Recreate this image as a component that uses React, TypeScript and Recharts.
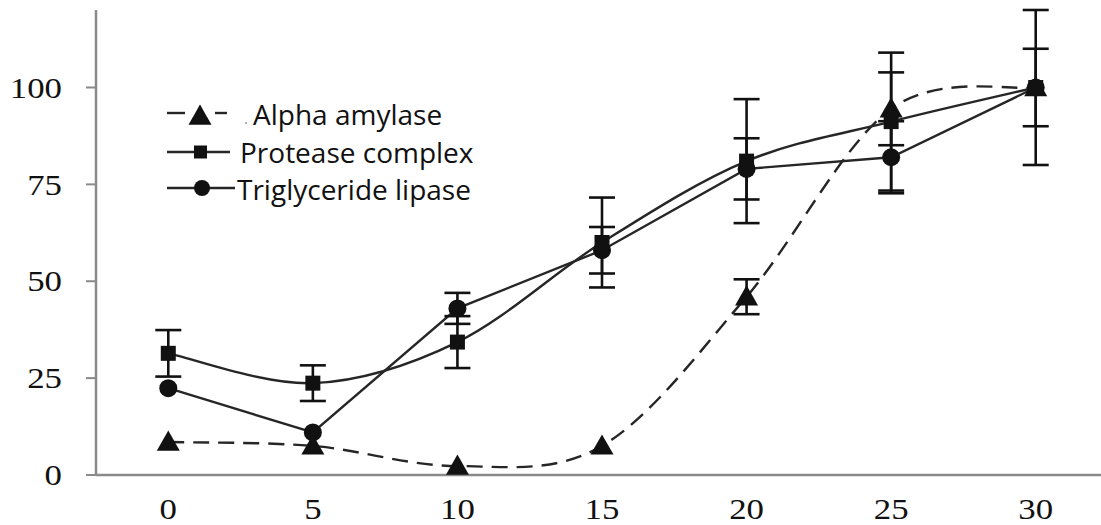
import React from "react";
import { ComposedChart, Line, XAxis, YAxis, ErrorBar, Legend } from "recharts";

// ---- data ----
const times = [0, 5, 10, 15, 20, 25, 30];
const alphaAmylase = [8.5, 7.5, 2.3, 7.5, 46, 94.5, 100];
const alphaErr = [0, 0, 0, 0, 4.5, 9.4, 0];
const proteaseComplex = [31.4, 23.7, 34.3, 60, 81, 91.2, 100];
const proteaseErr = [6, 4.6, 6.7, 11.6, 16, 17.8, 10];
const triglycerideLipase = [22.4, 11, 43, 58, 79, 82, 100];
const lipaseErr = [0, 0, 4, 6, 7.9, 9.3, 20];
const yTicks = [0, 25, 50, 75, 100];
const xLabelTicks = [0, 5, 10, 15, 20, 25, 30];
const xBoundaryTicks = [-2.5, 2.5, 7.5, 12.5, 17.5, 22.5, 27.5, 32.5];
const seriesNames = ["Alpha amylase", "Protease complex", "Triglyceride lipase"];

const data = times.map((t, i) => ({
  t,
  a: alphaAmylase[i],
  aErr: alphaErr[i],
  p: proteaseComplex[i],
  pErr: proteaseErr[i],
  l: triglycerideLipase[i],
  lErr: lipaseErr[i],
}));

const AXIS = "#8a8a8a";
const INK = "#111";
const LINE = "#262626";
const SERIF = "'Liberation Serif', 'DejaVu Serif', serif";
const SANS = "'Open Sans', 'Noto Sans', sans-serif";

// Excel-like smoothing curve (cubic Bezier, 1/6 tangent factor)
function excelSmooth(context: any) {
  let pts: number[][] = [];
  return {
    areaStart() {},
    areaEnd() {},
    lineStart() {
      pts = [];
    },
    point(x: number, y: number) {
      pts.push([+x, +y]);
    },
    lineEnd() {
      const n = pts.length;
      if (!n) return;
      context.moveTo(pts[0][0], pts[0][1]);
      const k = 1 / 6;
      for (let i = 0; i < n - 1; i++) {
        const p0 = pts[i - 1] || pts[i];
        const p1 = pts[i];
        const p2 = pts[i + 1];
        const p3 = pts[i + 2] || pts[i + 1];
        context.bezierCurveTo(
          p1[0] + (p2[0] - p0[0]) * k,
          p1[1] + (p2[1] - p0[1]) * k,
          p2[0] - (p3[0] - p1[0]) * k,
          p2[1] - (p3[1] - p1[1]) * k,
          p2[0],
          p2[1]
        );
      }
    },
  };
}

const TriangleDot = (props: any) => {
  const { cx, cy } = props;
  if (cx == null || cy == null) return null;
  const s = 11.5;
  return (
    <polygon
      points={`${cx},${cy - s} ${cx - s},${cy + s * 0.75} ${cx + s},${cy + s * 0.75}`}
      fill={INK}
    />
  );
};
const SquareDot = (props: any) => {
  const { cx, cy } = props;
  if (cx == null || cy == null) return null;
  const s = 7.5;
  return <rect x={cx - s} y={cy - s} width={2 * s} height={2 * s} fill={INK} />;
};
const CircleDot = (props: any) => {
  const { cx, cy } = props;
  if (cx == null || cy == null) return null;
  return <circle cx={cx} cy={cy} r={9} fill={INK} />;
};

const YTick = (props: any) => {
  const { x, y, payload } = props;
  return (
    <text
      transform={`translate(${x},${y}) scale(1.2,1)`}
      textAnchor="end"
      dy="0.35em"
      fontFamily={SERIF}
      fontSize={29}
      fill="#111"
    >
      {payload.value}
    </text>
  );
};
const XTick = (props: any) => {
  const { x, y, payload } = props;
  return (
    <text
      transform={`translate(${x},${y}) scale(1.2,1)`}
      textAnchor="middle"
      dy="0.71em"
      fontFamily={SERIF}
      fontSize={29}
      fill="#111"
    >
      {payload.value}
    </text>
  );
};

const LegendContent = () => (
  <svg width={360} height={120} style={{ display: "block", overflow: "visible" }}>
    {/* row 1: dashed + triangle */}
    <line x1={7} y1={21} x2={25} y2={21} stroke={LINE} strokeWidth={2.4} />
    <line x1={55} y1={21} x2={67} y2={21} stroke={LINE} strokeWidth={2.4} />
    <circle cx={86} cy={31} r={1} fill="#999" />
    <TriangleDot cx={40} cy={24} />
    <text x={93} y={33} fontFamily={SANS} fontSize={28} fill="#111">
      {seriesNames[0]}
    </text>
    {/* row 2: solid + square */}
    <line x1={7} y1={60} x2={70} y2={60} stroke={LINE} strokeWidth={2.4} />
    <rect x={34} y={53.5} width={13} height={13} fill={INK} />
    <text x={80} y={71} fontFamily={SANS} fontSize={28} fill="#111">
      {seriesNames[1]}
    </text>
    {/* row 3: solid + circle */}
    <line x1={7} y1={96} x2={75} y2={96} stroke={LINE} strokeWidth={2.4} />
    <circle cx={42} cy={96} r={8} fill={INK} />
    <text x={77} y={108} fontFamily={SANS} fontSize={28} fill="#111">
      {seriesNames[2]}
    </text>
  </svg>
);

export default function App() {
  return (
    <div
      style={{
        position: "absolute",
        left: 0,
        top: 0,
        width: 1101,
        height: 525,
        overflow: "hidden",
        background: "#fff",
      }}
    >
      <ComposedChart
        width={1110}
        height={525}
        data={data}
        margin={{ top: 10, right: 2, bottom: 0, left: 0 }}
      >
        <XAxis
          xAxisId="b"
          dataKey="t"
          type="number"
          domain={[-2.5, 32.5]}
          ticks={xBoundaryTicks}
          interval={0}
          allowDataOverflow
          tick={false}
          tickSize={9}
          height={1}
          axisLine={{ stroke: AXIS, strokeWidth: 2.5 }}
          tickLine={{ stroke: AXIS, strokeWidth: 2 }}
        />
        <XAxis
          xAxisId="lab"
          dataKey="t"
          type="number"
          domain={[-2.5, 32.5]}
          ticks={xLabelTicks}
          interval={0}
          allowDataOverflow
          axisLine={false}
          tickLine={false}
          tickSize={0}
          tickMargin={22}
          height={49}
          tick={<XTick />}
        />
        <YAxis
          type="number"
          domain={[0, 120]}
          ticks={yTicks}
          interval={0}
          allowDataOverflow
          width={96}
          tickSize={10}
          tickMargin={24}
          axisLine={{ stroke: AXIS, strokeWidth: 2.5 }}
          tickLine={{ stroke: AXIS, strokeWidth: 2 }}
          tick={<YTick />}
        />
        <Legend
          layout="horizontal"
          verticalAlign="middle"
          align="center"
          wrapperStyle={{ left: 160, top: 92, width: 360, height: 120 }}
          content={() => <LegendContent />}
        />
        <Line
          xAxisId="b"
          dataKey="l"
          type="linear"
          stroke={LINE}
          strokeWidth={2.4}
          dot={(p: any) => <CircleDot key={`l${p.index}`} {...p} />}
          activeDot={false}
          isAnimationActive={false}
        >
          <ErrorBar dataKey="lErr" width={13} strokeWidth={2.6} stroke={INK} direction="y" />
        </Line>
        <Line
          xAxisId="b"
          dataKey="p"
          type={excelSmooth as any}
          stroke={LINE}
          strokeWidth={2.4}
          dot={(p: any) => <SquareDot key={`p${p.index}`} {...p} />}
          activeDot={false}
          isAnimationActive={false}
        >
          <ErrorBar dataKey="pErr" width={13} strokeWidth={2.6} stroke={INK} direction="y" />
        </Line>
        <Line
          xAxisId="b"
          dataKey="a"
          type={excelSmooth as any}
          stroke={LINE}
          strokeWidth={2.4}
          strokeDasharray="16 9"
          dot={(p: any) => <TriangleDot key={`a${p.index}`} {...p} />}
          activeDot={false}
          isAnimationActive={false}
        >
          <ErrorBar dataKey="aErr" width={13} strokeWidth={2.6} stroke={INK} direction="y" />
        </Line>
      </ComposedChart>
    </div>
  );
}
